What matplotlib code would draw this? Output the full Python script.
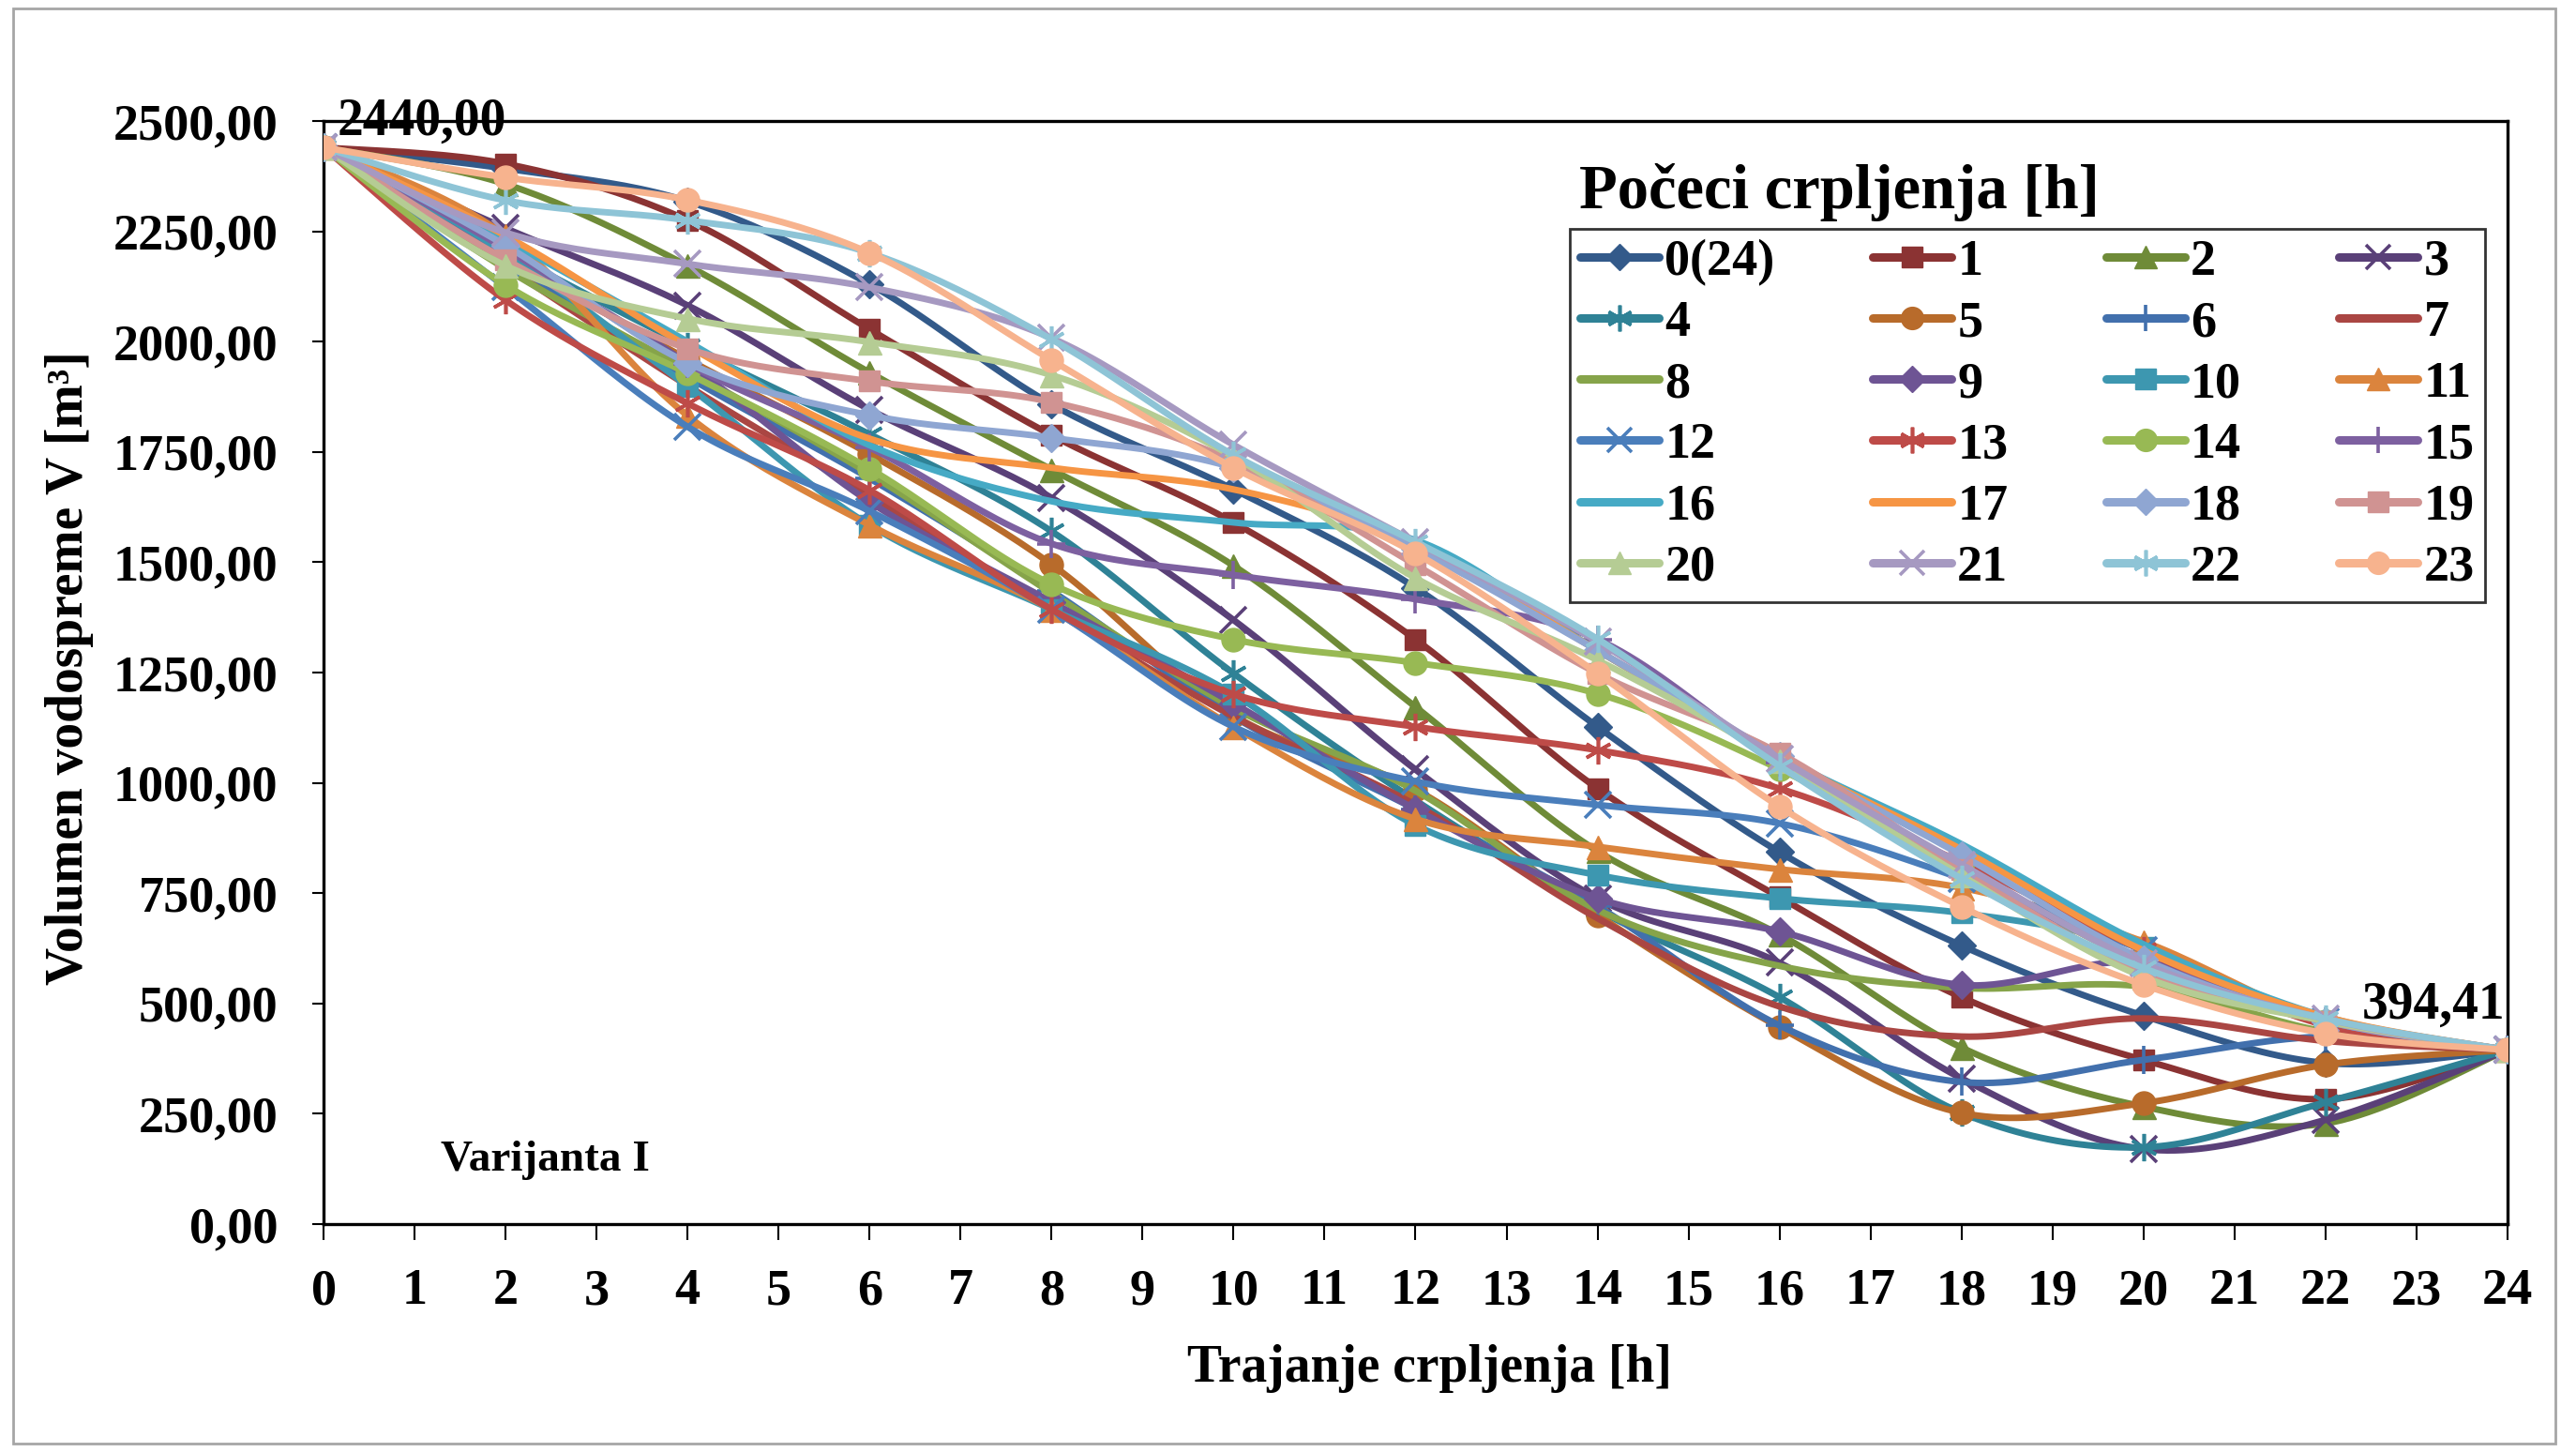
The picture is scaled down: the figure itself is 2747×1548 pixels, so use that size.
import numpy as np
import matplotlib.pyplot as plt
from matplotlib.lines import Line2D
from matplotlib.patches import Rectangle

plt.rcParams['font.family'] = ['Liberation Serif', 'DejaVu Serif']
plt.rcParams['font.weight'] = 'bold'

hours = [0, 2, 4, 6, 8, 10, 12, 14, 16, 18, 20, 22, 24]
labels = ['0(24)'] + [str(i) for i in range(1, 24)]

s0 = [2440, 2392, 2318, 2130, 1858, 1665, 1442, 1127, 843, 631, 472, 365, 394.41]
s1 = [2440, 2403, 2275, 2028, 1788, 1590, 1325, 987, 741, 514, 372, 283, 394.41]
s2 = [2440, 2357, 2172, 1930, 1710, 1492, 1172, 845, 656, 400, 266, 228, 394.41]
s3 = [2440, 2257, 2082, 1846, 1646, 1369, 1030, 738, 592, 330, 170, 236, 394.41]
s4 = [2440, 2205, 1990, 1790, 1570, 1248, 960, 712, 514, 252, 174, 276, 394.41]
s5 = [2440, 2195, 1960, 1745, 1495, 1153, 985, 700, 446, 252, 274, 361, 394.41]
s6 = [2440, 2180, 1920, 1690, 1435, 1150, 940, 720, 450, 322, 372, 425, 394.41]
s7 = [2440, 2170, 1900, 1650, 1393, 1150, 950, 693, 493, 425, 466, 415, 394.41]
s8 = [2440, 2165, 1935, 1700, 1430, 1170, 982, 712, 585, 535, 538, 436, 394.41]
s9 = [2440, 2200, 1950, 1637, 1410, 1180, 940, 738, 663, 542, 593, 457, 394.41]
s10 = [2440, 2200, 1899, 1584, 1393, 1201, 904, 791, 738, 705, 627, 460, 394.41]
s11 = [2440, 2240, 1832, 1584, 1393, 1127, 918, 855, 804, 762, 640, 460, 394.41]
s12 = [2440, 2123, 1807, 1616, 1393, 1127, 1003, 950, 908, 783, 620, 460, 394.41]
s13 = [2440, 2094, 1860, 1663, 1393, 1201, 1127, 1074, 987, 820, 620, 450, 394.41]
s14 = [2440, 2128, 1928, 1712, 1450, 1325, 1272, 1202, 1031, 810, 590, 460, 394.41]
s15 = [2440, 2210, 1950, 1760, 1542, 1471, 1416, 1325, 1045, 800, 600, 460, 394.41]
s16 = [2440, 2230, 2000, 1765, 1638, 1590, 1550, 1300, 1060, 861, 634, 470, 394.41]
s17 = [2440, 2240, 1990, 1780, 1714, 1665, 1540, 1300, 1060, 849, 620, 470, 394.41]
s18 = [2440, 2218, 1952, 1833, 1782, 1714, 1530, 1300, 1061, 836, 600, 460, 394.41]
s19 = [2440, 2186, 1984, 1910, 1863, 1729, 1494, 1248, 1067, 804, 570, 460, 394.41]
s20 = [2440, 2172, 2052, 1999, 1924, 1739, 1464, 1278, 1050, 790, 560, 460, 394.41]
s21 = [2440, 2247, 2176, 2123, 2008, 1766, 1545, 1320, 1055, 815, 590, 465, 394.41]
s22 = [2440, 2320, 2275, 2201, 2005, 1743, 1546, 1326, 1038, 783, 580, 465, 394.41]
s23 = [2440, 2372, 2321, 2201, 1958, 1714, 1520, 1248, 946, 719, 542, 432, 394.41]

series = [s0, s1, s2, s3, s4, s5, s6, s7, s8, s9, s10, s11,
          s12, s13, s14, s15, s16, s17, s18, s19, s20, s21, s22, s23]

colors = ['#335A8A', '#8B3333', '#6F8B38', '#5A4078', '#2F8296', '#B86B2B',
          '#4270AD', '#AA4643', '#86A44A', '#6E5494', '#3D97B0', '#DB843D',
          '#4A7EBB', '#BE4B48', '#98B954', '#7D60A0', '#46AAC5', '#F69544',
          '#8FA6D2', '#D09392', '#B5CC94', '#A699C1', '#8EC4D6', '#F7B38E']
ast = (6, 2, 0)
markers = ['D', 's', '^', 'x', ast, 'o', '+', '_', '_'] * 3
msizes = {'D': 15, 's': 16, '^': 18, 'x': 20, ast: 21, 'o': 18, '+': 21, '_': 1}


def smooth(x, y, n=24):
    # excel style smoothed line (bezier through the points)
    x = np.asarray(x, float)
    y = np.asarray(y, float)
    px = np.concatenate([[x[0]], x, [x[-1]]])
    py = np.concatenate([[y[0]], y, [y[-1]]])
    t = np.linspace(0, 1, n)[:, None]
    xs, ys = [], []
    for i in range(1, len(px) - 2):
        p0 = np.array([px[i], py[i]])
        p3 = np.array([px[i + 1], py[i + 1]])
        c1 = p0 + (p3 - np.array([px[i - 1], py[i - 1]])) / 6
        c2 = p3 - (np.array([px[i + 2], py[i + 2]]) - p0) / 6
        b = ((1 - t) ** 3) * p0 + 3 * ((1 - t) ** 2) * t * c1 + 3 * (1 - t) * t ** 2 * c2 + t ** 3 * p3
        xs.append(b[:, 0])
        ys.append(b[:, 1])
    return np.concatenate(xs), np.concatenate(ys)


fig = plt.figure(figsize=(27.47, 15.48), dpi=100)
fig.patches.append(Rectangle((0.005, 0.006), 0.987, 0.988, transform=fig.transFigure,
                             fill=False, edgecolor='#A6A6A6', lw=2))
ax = fig.add_axes([0.1256, 0.157, 0.8478, 0.7597])

handles = []
for i, s in enumerate(series):
    xs, ys = smooth(hours, s)
    ax.plot(xs, ys, color=colors[i], lw=5, solid_capstyle='round', zorder=2 + i)
    m = markers[i]
    mew = 2.6 if m in ('x', '+', ast) else 1
    ax.plot(hours, s, ls='none', marker=m, ms=msizes[m], color=colors[i],
            mec=colors[i], mew=mew, zorder=2 + i)
    handles.append(Line2D([], [], color=colors[i], lw=6.5, marker=m,
                          ms=msizes[m] * 0.95, mew=mew, solid_capstyle='round'))

ax.set_xlim(0, 24)
ax.set_ylim(0, 2500)
ax.set_xticks(range(0, 25))
ax.set_yticks(np.arange(0, 2501, 250))
ax.set_yticklabels([f'{v:.2f}'.replace('.', ',') for v in np.arange(0, 2501, 250)])
ax.tick_params(axis='x', direction='out', length=12, width=1.5, labelsize=39, pad=22)
ax.tick_params(axis='y', direction='out', length=9, width=1.5, labelsize=39, pad=26)
for sp in ax.spines.values():
    sp.set_linewidth(2.4)

fig.text(0.555, 1 - 1459 / 1548, 'Trajanje crpljenja [h]', fontsize=40,
         fontweight='bold', ha='center', va='center')
fig.text(74 / 2747, 0.54, 'Volumen vodospreme V [m³]', fontsize=40,
         fontweight='bold', ha='center', va='center', rotation=90)

ax.text(0.15, 2498, '2440,00', fontsize=40, fontweight='bold', ha='left', va='center')
ax.text(23.97, 495, '394,41', fontsize=40, fontweight='bold', ha='right', va='center')
ax.text(1.29, 145, 'Varijanta I', fontsize=34, fontweight='bold', ha='left', va='center')

fig.text(0.613, 0.8566, 'Počeci crpljenja [h]', fontsize=48, fontweight='bold',
         ha='left', va='baseline')

# legend fills row by row like the original
order = [r * 4 + c for c in range(4) for r in range(6)]
leg = ax.legend([handles[k] for k in order], [labels[k] for k in order], ncol=4,
                loc='upper left', mode='expand',
                bbox_to_anchor=(0.6094, 0.5911, 0.3553, 0.2513),
                bbox_transform=fig.transFigure, fontsize=39, frameon=True,
                fancybox=False, edgecolor='black', handlelength=1.55,
                handletextpad=0.12, labelspacing=0.28, columnspacing=0.4,
                borderaxespad=0, borderpad=0.2)
leg.get_frame().set_linewidth(2)
leg.set_zorder(50)

fig.savefig('out.png', dpi=100, facecolor='white')
